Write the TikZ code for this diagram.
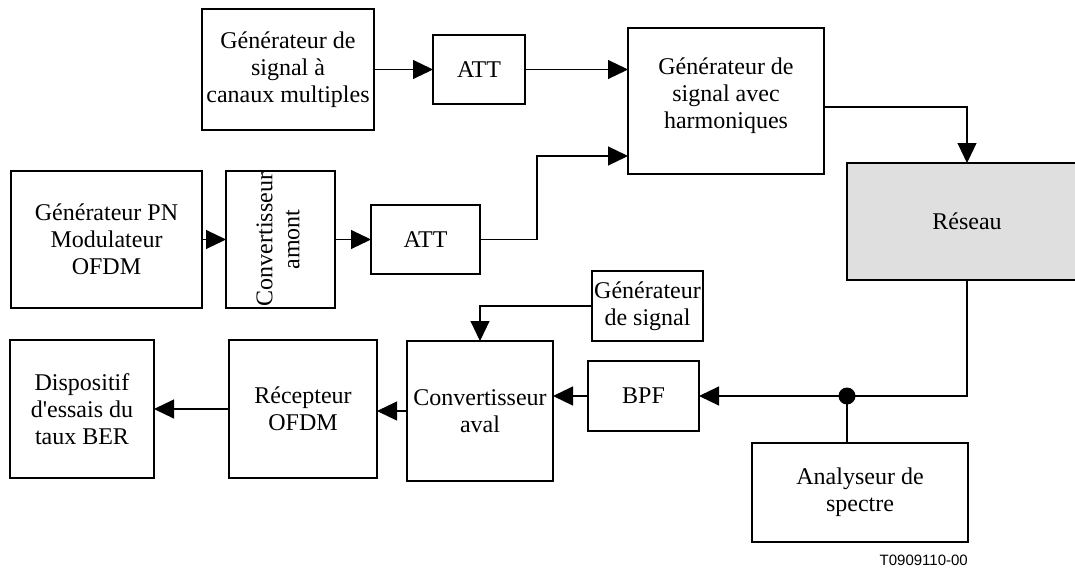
\documentclass[tikz,border=0pt]{standalone}
\usepackage{fontspec}
\setmainfont{Liberation Serif}
\newfontfamily\reffont{Liberation Sans}
\usetikzlibrary{arrows.meta,positioning}

\begin{document}
\begin{tikzpicture}[x=1pt,y=-1pt,
	box/.style={draw,line width=1.1pt,inner sep=1pt,outer sep=0pt,align=center,
		font=\fontsize{24}{27}\selectfont},
	arr/.style={-{Triangle[length=20pt,width=19pt]},line width=1.1pt},
	wire/.style={line width=1.1pt}]
			\useasboundingbox (0,0) rectangle (1075,567);
			\clip (0,0) rectangle (1075,567);
			
			% Top row
			\node[box,minimum width=172pt,minimum height=121pt] (gmc) at (288,69.5) {Générateur de\\signal à\\canaux multiples};
			\node[box,minimum width=92pt,minimum height=69pt] (att1) at (479,69.5) {ATT};
			\node[box,minimum width=196pt,minimum height=146pt] (gharm) at (726,101) {Générateur de\\signal avec\\harmoniques\\[-11pt]};
			
			% Network
			\node[box,fill=gray!25,minimum width=240pt,minimum height=117pt] (res) at (967,221.5) {Réseau};
			
			% Middle row
			\node[box,minimum width=191pt,minimum height=137pt] (gpn) at (106.5,239.5) {Générateur PN\\Modulateur\\OFDM};
			\node[box,minimum width=109pt,minimum height=137pt] (cam) at (280.5,239.5) {\rotatebox{90}{\begin{tabular}{@{}c@{}}Convertisseur\\amont\end{tabular}}};
			\node[box,minimum width=109pt,minimum height=69pt] (att2) at (425.5,239.5) {ATT};
			
			% Bottom row
			\node[box,minimum width=111pt,minimum height=70pt] (gsig) at (647.5,306) {Générateur\\de signal};
			\node[box,minimum width=146pt,minimum height=140pt] (cav) at (480,411) {Convertisseur\\aval};
			\node[box,minimum width=111pt,minimum height=70pt] (bpf) at (643.5,396) {BPF};
			\node[box,minimum width=148pt,minimum height=138pt] (rec) at (303,409) {Récepteur\\OFDM};
			\node[box,minimum width=144pt,minimum height=138pt] (ber) at (82,409) {Dispositif\\d\textquotesingle essais du\\taux BER};
			\node[box,minimum width=216pt,minimum height=99pt] (ana) at (860,492.5) {Analyseur de\\spectre};
			
			% Figure number
			\node[anchor=east,inner sep=0pt,font=\reffont\fontsize{15}{18}\selectfont] (fig) at (968,560) {T0909110-00};
			
			% Connections
			\draw[arr] (gmc.east) -- (att1.west);
			\draw[arr] (att1.east) -- (att1.east -| gharm.west);
			\draw[arr] ([yshift=-6pt]gharm.east) -| (res.north);
			\draw[arr] (gpn.east) -- (cam.west);
			\draw[arr] (cam.east) -- (att2.west);
			\draw[arr] (att2.east) -- ++(57,0) |- ([yshift=-55pt]gharm.west);
			
			% Tap towards the spectrum analyser
			\coordinate (tap) at (847,396);
			\draw[wire] (res.south) |- (tap);
			\fill (tap) circle (8.5pt);
			\draw[wire] (tap) -- (tap |- ana.north);
			\draw[arr] (tap) -- (bpf.east);
			\draw[arr] (bpf.west) -- (bpf.west -| cav.east);
			\draw[arr] (gsig.west) -| (cav.north);
			\draw[arr] (cav.west) -- (cav.west -| rec.east);
			\draw[arr] (rec.west) -- (ber.east);
		\end{tikzpicture}
\end{document}
